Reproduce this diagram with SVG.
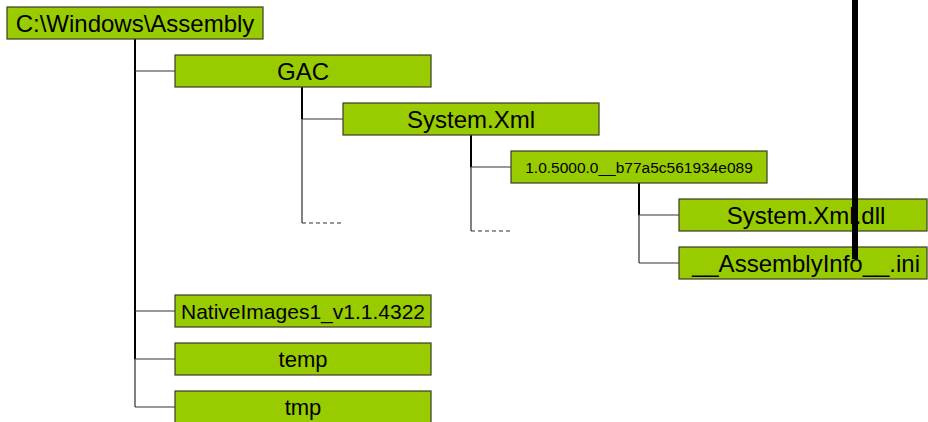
<svg xmlns="http://www.w3.org/2000/svg" width="928" height="422" viewBox="0 0 928 422">
  <style>
    .box { fill: #99cc00; stroke: #3a3a2a; stroke-width: 1.2; }
    .lbl { font-family: "Liberation Sans", Arial, sans-serif; fill: #000; text-anchor: middle; }
    .trunk { stroke: #000; stroke-width: 2; fill: none; }
    .tail { stroke: #808080; stroke-width: 2; fill: none; }
    .branch { stroke: #333; stroke-width: 1.2; fill: none; }
    .more { stroke: #333; stroke-width: 1.2; stroke-dasharray: 4 3; fill: none; }
  </style>
  <rect width="928" height="422" fill="#fff"/>

  <!-- tree connectors -->
  <g id="connectors">
    <!-- root column -->
    <line class="trunk" x1="135" y1="39" x2="135" y2="359"/>
    <line class="tail" x1="135" y1="359" x2="135" y2="407"/>
    <line class="branch" x1="135" y1="71" x2="175" y2="71"/>
    <line class="branch" x1="135" y1="311" x2="175" y2="311"/>
    <line class="branch" x1="135" y1="359" x2="175" y2="359"/>
    <line class="branch" x1="135" y1="407" x2="175" y2="407"/>
    <!-- GAC column -->
    <line class="trunk" x1="302" y1="87" x2="302" y2="119"/>
    <line class="tail" x1="302" y1="119" x2="302" y2="223"/>
    <line class="branch" x1="302" y1="119" x2="343" y2="119"/>
    <line class="more" x1="302" y1="223" x2="343" y2="223"/>
    <!-- System.Xml column -->
    <line class="trunk" x1="471" y1="135" x2="471" y2="167"/>
    <line class="tail" x1="471" y1="167" x2="471" y2="231"/>
    <line class="branch" x1="471" y1="167" x2="511" y2="167"/>
    <line class="more" x1="471" y1="231" x2="511" y2="231"/>
    <!-- version column -->
    <line class="trunk" x1="639" y1="183" x2="639" y2="215"/>
    <line class="tail" x1="639" y1="215" x2="639" y2="263"/>
    <line class="branch" x1="639" y1="215" x2="679" y2="215"/>
    <line class="branch" x1="639" y1="263" x2="679" y2="263"/>
  </g>

  <g id="root">
    <rect class="box" x="7" y="7" width="256" height="32"/>
    <text class="lbl" x="135" y="31.5" font-size="24">C:\Windows\Assembly</text>
  </g>
  <g id="gac">
    <rect class="box" x="175" y="55" width="256" height="32"/>
    <text class="lbl" x="303" y="79.5" font-size="24">GAC</text>
  </g>
  <g id="system-xml">
    <rect class="box" x="343" y="103" width="256" height="32"/>
    <text class="lbl" x="471" y="127.5" font-size="24">System.Xml</text>
  </g>
  <g id="version">
    <rect class="box" x="511" y="151" width="256" height="32"/>
    <text class="lbl" x="639" y="172.5" font-size="15.5">1.0.5000.0__b77a5c561934e089</text>
  </g>
  <g id="system-xml-dll">
    <rect class="box" x="679" y="199" width="248" height="32"/>
    <text class="lbl" x="806" y="223.5" font-size="24">System.Xml.dll</text>
  </g>
  <g id="assembly-info">
    <rect class="box" x="679" y="247" width="248" height="32"/>
    <text class="lbl" x="806" y="271.5" font-size="24">__AssemblyInfo__.ini</text>
  </g>
  <g id="native-images">
    <rect class="box" x="175" y="295" width="256" height="32"/>
    <text class="lbl" x="303" y="318.5" font-size="21">NativeImages1_v1.1.4322</text>
  </g>
  <g id="temp">
    <rect class="box" x="175" y="343" width="256" height="32"/>
    <text class="lbl" x="303" y="367" font-size="22">temp</text>
  </g>
  <g id="tmp">
    <rect class="box" x="175" y="391" width="256" height="32"/>
    <text class="lbl" x="303" y="415" font-size="22">tmp</text>
  </g>

  <!-- heavy vertical bar drawn over the leaf boxes -->
  <rect x="852" y="0" width="6" height="259" fill="#000"/>
</svg>
